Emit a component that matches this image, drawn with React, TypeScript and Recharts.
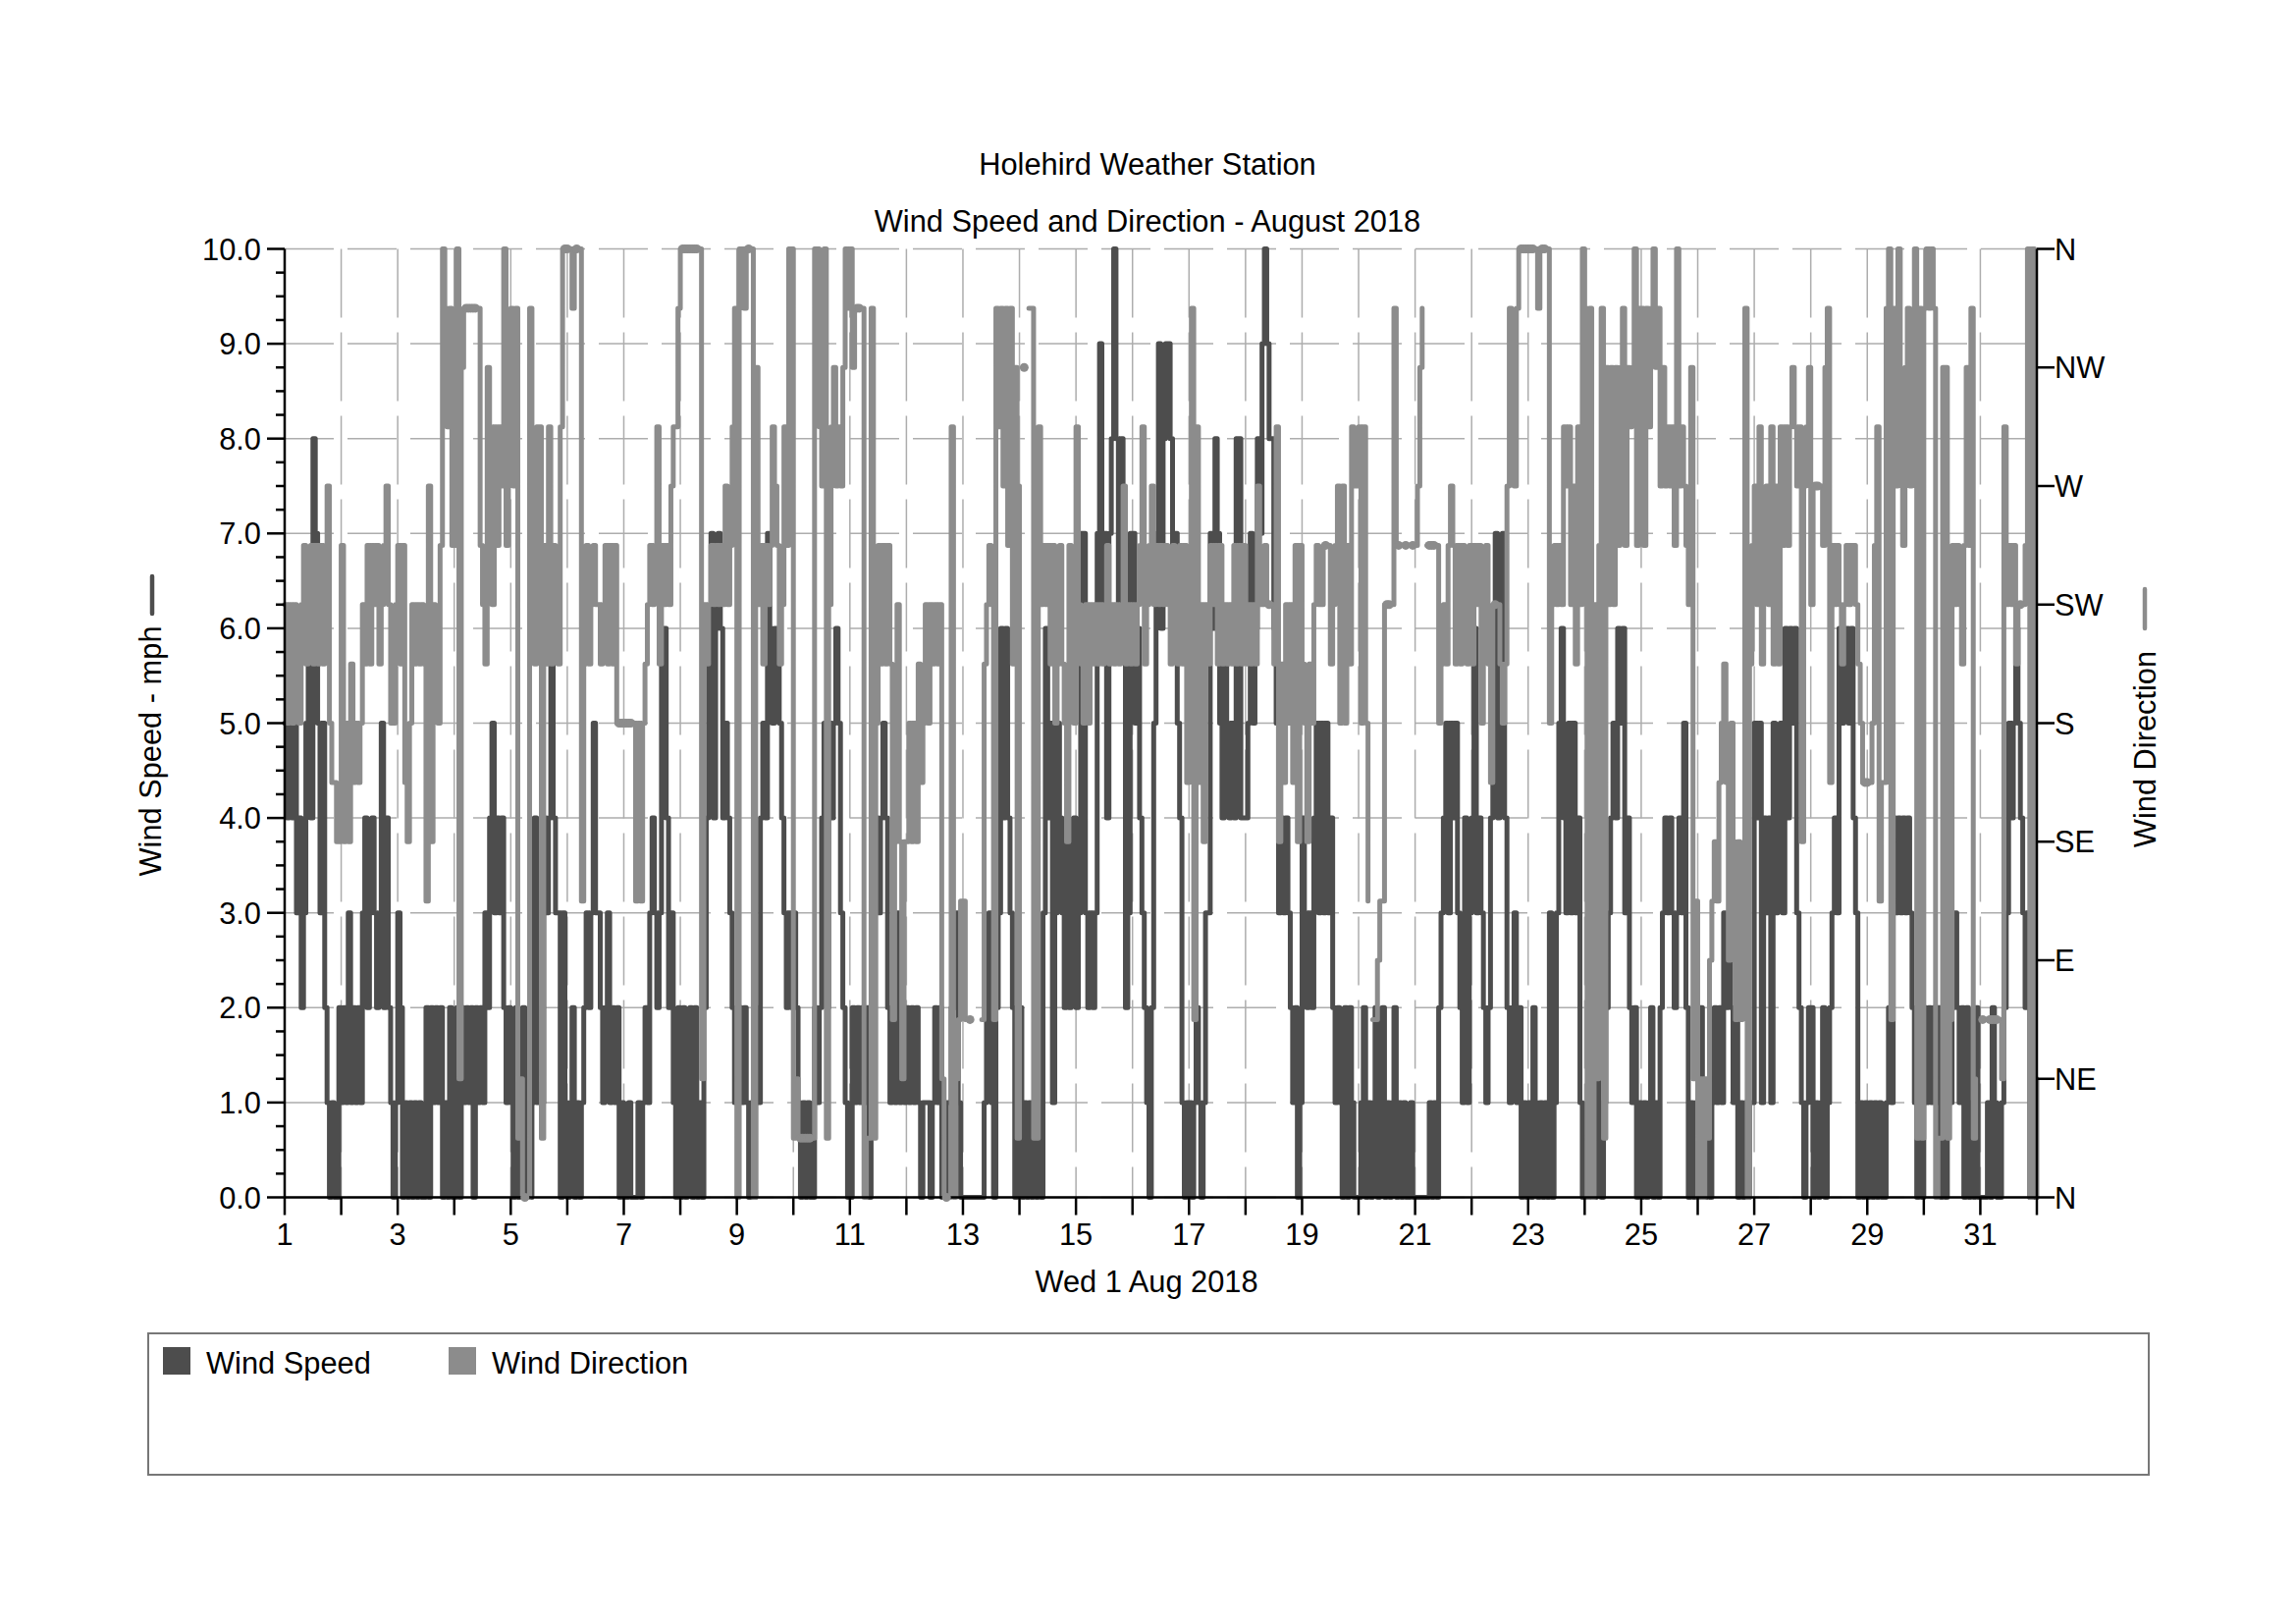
import React from "react";
import { ComposedChart, Line, XAxis, YAxis, CartesianGrid, Legend } from "recharts";

// Samples are hourly, one row per day of August 2018. Speed is in mph.
const speedDays = [
  [5,4,5,4,5,3,4,2,3,5,6,4,8,7,5,3,5,2,1,0,1,0,0,2],
  [1,2,1,3,1,2,1,2,1,3,4,2,3,4,3,2,3,5,2,4,2,1,0,1],
  [3,2,0,1,0,1,0,1,0,1,0,0,2,0,2,1,2,1,2,0,1,0,2,0],
  [0,2,0,2,1,2,1,2,0,2,1,2,1,3,2,4,5,3,4,3,4,2,1,2],
  [1,0,2,0,1,2,0,1,0,1,4,1,2,1,4,3,4,6,4,3,3,0,3,1],
  [0,1,2,0,1,0,1,2,3,2,3,5,3,3,2,1,2,3,1,2,1,2,0,1],
  [0,0,1,0,0,0,1,0,1,2,1,3,4,3,2,3,6,6,4,2,3,1,0,2],
  [0,2,0,1,2,0,2,0,1,0,2,4,6,7,4,6,7,6,4,5,4,3,2,1],
  [1,2,1,2,1,0,1,0,2,1,4,5,4,7,6,5,6,6,5,4,3,2,3,2],
  [3,2,1,0,1,0,1,0,0,2,1,2,4,5,2,5,4,5,6,5,3,2,1,0],
  [0,2,1,2,1,2,1,2,0,1,4,4,3,4,5,4,2,1,2,1,3,1,2,1],
  [2,1,2,1,2,1,0,1,1,1,0,1,2,1,2,0,0,1,1,2,2,3,1,0],
  [0,0,0,0,0,0,0,0,0,1,2,3,1,0,2,3,6,4,6,4,3,2,0,2],
  [2,0,1,0,1,0,1,0,1,0,3,6,4,5,1,3,5,4,3,2,4,2,3,4],
  [2,3,7,7,3,2,3,2,3,7,9,6,7,4,7,8,10,8,6,8,7,2,3,7],
  [7,5,6,4,3,2,1,0,2,5,7,9,6,8,9,9,8,6,7,5,4,1,0,1],
  [1,0,1,2,1,0,1,3,3,7,6,8,7,5,4,6,5,4,5,4,8,8,4,4],
  [4,5,7,5,6,8,7,9,10,9,8,8,6,5,3,4,3,4,3,2,1,2,0,1],
  [4,3,2,3,2,4,5,3,5,3,5,3,4,2,1,2,1,0,2,0,2,1,0,0],
  [0,1,2,0,1,0,1,2,0,1,2,0,1,0,1,2,0,1,0,1,0,0,1,0],
  [0,0,0,0,0,0,1,0,1,0,2,3,4,5,3,5,4,5,3,2,1,4,1,3],
  [4,6,3,4,3,2,1,2,4,5,7,4,6,7,4,2,1,2,3,1,2,0,1,0],
  [1,0,2,1,0,1,0,1,0,3,0,1,3,5,6,4,3,5,3,5,3,4,1,0],
  [0,1,0,1,0,2,1,0,1,2,3,4,5,4,6,5,6,3,4,2,1,2,0,1],
  [0,1,0,1,2,0,1,0,2,3,4,3,4,3,2,3,4,3,5,2,0,1,0,1],
  [0,2,1,0,1,0,1,2,1,2,1,3,2,3,2,1,2,0,1,0,1,0,1,1],
  [5,4,5,1,4,3,4,1,5,3,4,5,3,6,4,6,5,6,3,2,1,0,1,2],
  [2,0,1,0,1,2,0,1,2,3,4,3,6,5,6,6,5,6,4,3,0,1,0,1],
  [0,1,0,1,0,1,0,0,1,2,1,4,3,4,3,4,3,4,3,2,1,0,1,0],
  [2,1,2,1,2,1,2,0,1,0,2,1,2,3,2,1,2,0,2,0,1,0,2,0],
  [0,0,0,1,0,2,1,0,0,1,2,3,5,4,5,6,5,4,3,2,3,0,1,0],
];

// Direction is in compass points of 22.5 degrees (0 = N, 8 = S, 16 = N); _ = no reading.
const _ = null;
const directionDays = [
  [10,8,10,8,10,9,8,10,11,9,10,11,9,11,9,11,9,11,12,8,7,7,6,6],
  [11,6,8,6,9,7,8,7,8,10,9,11,9,11,10,11,9,10,11,12,10,8,8,10],
  [11,9,11,7,6,8,10,9,10,9,10,9,5,12,6,10,9,8,11,16,15,13,15,11],
  [11,16,2,14,15,15,15,15,15,15,15,11,10,9,14,13,10,13,11,13,12,16,11,14],
  [15,12,15,1,2,0,0,0,15,11,9,13,13,1,11,9,13,9,11,10,9,13,16,16],
  [16,16,15,16,16,16,5,9,11,9,10,11,10,10,9,10,11,9,11,9,11,8,8,8],
  [8,8,8,8,8,5,8,5,8,9,10,11,10,11,13,9,11,10,11,10,12,13,13,15],
  [16,16,16,16,16,16,16,16,16,2,10,9,10,11,10,11,10,11,10,12,10,11,13,15],
  [0,16,16,15,16,16,16,0,14,10,11,9,11,10,11,13,12,11,9,10,13,11,16,16],
  [1,2,1,1,1,1,1,1,1,16,16,13,12,16,1,10,13,14,12,13,12,14,16,15],
  [16,14,15,15,15,15,0,1,1,15,1,8,11,9,11,9,11,9,3,6,10,6,2,6],
  [6,8,6,8,6,9,7,8,10,8,10,9,10,9,10,2,0,0,0,13,0,2,3,5],
  [5,3,_,3,_,_,_,_,3,9,10,11,10,3,15,13,15,12,15,11,15,9,14,1],
  [12,_,14,_,15,15,1,1,13,10,11,10,11,9,11,8,9,11,9,8,6,11,9,8],
  [13,10,9,8,10,8,10,9,10,9,10,9,10,11,9,10,9,10,9,10,12,9,10,9],
  [10,9,10,11,13,9,10,11,12,10,11,10,11,10,11,10,9,11,10,9,11,9,11,7],
  [9,15,3,13,7,10,6,10,9,11,10,11,9,11,9,10,9,10,9,11,9,11,9,11],
  [9,10,9,10,9,12,10,10,11,10,10,10,9,13,6,9,7,10,8,10,7,11,6,11],
  [9,8,6,9,8,10,11,10,10,11,11,11,9,10,11,12,8,12,8,11,9,13,12,12],
  [13,8,13,8,5,_,3,3,4,5,5,10,10,10,10,15,11,11,_,11,11,_,11,11],
  [11,12,14,15,_,11,11,11,11,11,8,9,10,9,11,12,11,9,11,9,11,10,9,11],
  [9,11,10,11,8,10,11,9,7,10,10,10,9,8,9,12,15,13,12,15,16,16,16,16],
  [16,16,16,16,15,16,16,16,16,8,10,11,10,11,10,13,12,13,10,12,9,13,10,16],
  [15,0,15,0,10,2,11,15,1,14,10,14,10,14,11,14,15,11,14,13,14,16,11,15],
  [15,11,15,13,15,16,14,15,12,14,12,13,12,13,11,16,12,13,12,11,10,14,2,5],
  [0,2,0,2,1,4,5,6,5,7,8,9,7,4,8,6,3,6,3,5,15,0,9,11],
  [12,10,13,9,11,12,10,13,9,12,9,13,11,13,11,13,14,13,12,13,6,12,13,14],
  [10,12,12,12,12,11,14,15,7,11,10,11,10,9,10,11,10,11,11,10,9,8,7,7],
  [7,7,8,11,13,5,7,7,15,16,3,15,12,16,13,11,14,15,12,14,16,1,15,1],
  [15,16,15,16,15,0,1,1,14,14,1,3,11,10,11,10,9,11,14,11,15,1,2,_],
  [_,3,_,3,3,3,3,3,3,2,13,10,11,10,11,9,10,10,10,11,16,0,16,2],
];

const dayNumbers = [1,2,3,4,5,6,7,8,9,10,11,12,13,14,15,16,17,18,19,20,21,22,23,24,25,26,27,28,29,30,31,32];
const speedMajorTicks = [0,1,2,3,4,5,6,7,8,9,10];
const compassTicks = [0,45,90,135,180,225,270,315,360];
const compassLabels = ["N","NE","E","SE","S","SW","W","NW","N"];

const seriesNames = ["Wind Speed","Wind Direction"];
const seriesColors = ["#4d4d4d","#8c8c8c"];

const rows: any[] = [];
speedDays.forEach((day, d) => {
  day.forEach((speed, h) => {
    const point = directionDays[d][h];
    rows.push({ t: d + 1 + h / 24, speed, direction: point === null ? null : point * 22.5 });
  });
});
rows.push({ t: 32, speed: 0, direction: 0 });

const speedTicks: number[] = [];
speedMajorTicks.forEach((v) => {
  speedTicks.push(v);
  if (v < 10) speedTicks.push(v + 0.25, v + 0.5, v + 0.75);
});

const FONT = "'Liberation Sans', Arial, sans-serif";
const fs = 30.8;

const LeftTick = (p: any) => {
  const v = p.payload.value;
  const major = Number.isInteger(v);
  return (
    <g>
      <line x1={p.x + (major ? -18 : -9) + 8} x2={p.x + 8} y1={p.y} y2={p.y} stroke="#000" strokeWidth={2.5} />
      {major ? (
        <text x={p.x - 16} y={p.y + 11} textAnchor="end" fontFamily={FONT} fontSize={fs} fill="#000">{v.toFixed(1)}</text>
      ) : null}
    </g>
  );
};

const RightTick = (p: any) => {
  const i = compassTicks.indexOf(p.payload.value);
  return (
    <g>
      <line x1={p.x - 8} x2={p.x + 10} y1={p.y} y2={p.y} stroke="#000" strokeWidth={2.5} />
      <text x={p.x + 10} y={p.y + 11} fontFamily={FONT} fontSize={fs} fill="#000">{compassLabels[i]}</text>
    </g>
  );
};

const BottomTick = (p: any) => {
  const v = p.payload.value;
  return (
    <g>
      <line x1={p.x} x2={p.x} y1={p.y - 8} y2={p.y + 10} stroke="#000" strokeWidth={2.5} />
      {v % 2 === 1 && v < 32 ? (
        <text x={p.x} y={p.y + 40} textAnchor="middle" fontFamily={FONT} fontSize={fs} fill="#000">{v}</text>
      ) : null}
    </g>
  );
};

// The source chart marks readings that are alone or part of a level run with a round dot.
const runDot = (p: any) => {
  const i = p.index;
  const cur = rows[i].direction;
  const prev = rows[i - 1] ? rows[i - 1].direction : null;
  const next = rows[i + 1] ? rows[i + 1].direction : null;
  const alone = prev === null && next === null;
  const level = prev === cur && (next === cur || next === null);
  if (cur === null || p.cy === null || p.cy === undefined || !(alone || level)) return <g key={i} />;
  return <circle key={i} cx={p.cx} cy={p.cy} r={4.5} fill={seriesColors[1]} />;
};

const legendContent = () => (
  <div style={{ position: "relative", width: "100%", height: "100%", fontFamily: FONT, fontSize: fs, color: "#000" }}>
    {seriesNames.map((name, i) => (
      <React.Fragment key={name}>
        <div style={{ position: "absolute", left: i === 0 ? 14 : 305, top: 13, width: 28, height: 28, background: seriesColors[i] }} />
        <div style={{ position: "absolute", left: i === 0 ? 58 : 349, top: 13, lineHeight: "34px", whiteSpace: "nowrap" }}>{name}</div>
      </React.Fragment>
    ))}
  </div>
);

const T = (p: any) => (
  <text fontFamily={FONT} fontSize={fs} fill="#000" textAnchor="middle" {...p} />
);

export default function App() {
  return (
    <div style={{ position: "absolute", left: 0, top: 0, width: 2339, height: 1653, background: "#fff" }}>
      <ComposedChart
        width={2339}
        height={1653}
        data={rows}
        margin={{ top: 253.5, right: 164, bottom: 383.5, left: 190 }}
      >
        <CartesianGrid yAxisId="speed" vertical={false} horizontalValues={speedMajorTicks} stroke="#adadad" strokeWidth={1.5} strokeDasharray="50 14" />
        <CartesianGrid yAxisId="speed" horizontal={false} verticalValues={dayNumbers} stroke="#adadad" strokeWidth={1.5} strokeDasharray="70 15" />
        <XAxis dataKey="t" type="number" domain={[1, 32]} ticks={dayNumbers} interval={0} height={50} tick={BottomTick} tickLine={false} axisLine={{ stroke: "#000", strokeWidth: 2.5 }} />
        <YAxis yAxisId="speed" domain={[0, 10]} ticks={speedTicks} interval={0} width={100} tick={LeftTick} tickLine={false} axisLine={{ stroke: "#000", strokeWidth: 2.5 }} />
        <YAxis yAxisId="direction" orientation="right" domain={[0, 360]} ticks={compassTicks} interval={0} width={100} tick={RightTick} tickLine={false} axisLine={{ stroke: "#000", strokeWidth: 2.5 }} />
        <Line yAxisId="speed" dataKey="speed" name={seriesNames[0]} type="stepAfter" stroke={seriesColors[0]} strokeWidth={5} strokeLinecap="round" strokeLinejoin="round" dot={false} isAnimationActive={false} />
        <Line yAxisId="direction" dataKey="direction" name={seriesNames[1]} type="stepAfter" stroke={seriesColors[1]} strokeWidth={5} strokeLinecap="round" strokeLinejoin="round" dot={runDot} connectNulls={false} isAnimationActive={false} />
        <Legend
          layout="horizontal"
          verticalAlign="middle"
          content={legendContent}
          wrapperStyle={{ position: "absolute", left: 150, top: 1357, width: 2040, height: 146, border: "2px solid #777", boxSizing: "border-box" }}
        />
        <T x={1169} y={178}>Holehird Weather Station</T>
        <T x={1169} y={236}>Wind Speed and Direction - August 2018</T>
        <T x={1168} y={1316}>Wed 1 Aug 2018</T>
        <T x={164} y={765} transform="rotate(-90 164 765)">Wind Speed - mph</T>
        <line x1={155} x2={155} y1={587} y2={625} stroke={seriesColors[0]} strokeWidth={4.5} strokeLinecap="round" />
        <T x={2196} y={763} transform="rotate(-90 2196 763)">Wind Direction</T>
        <line x1={2185} x2={2185} y1={600} y2={640} stroke={seriesColors[1]} strokeWidth={4.5} strokeLinecap="round" />
      </ComposedChart>
    </div>
  );
}
